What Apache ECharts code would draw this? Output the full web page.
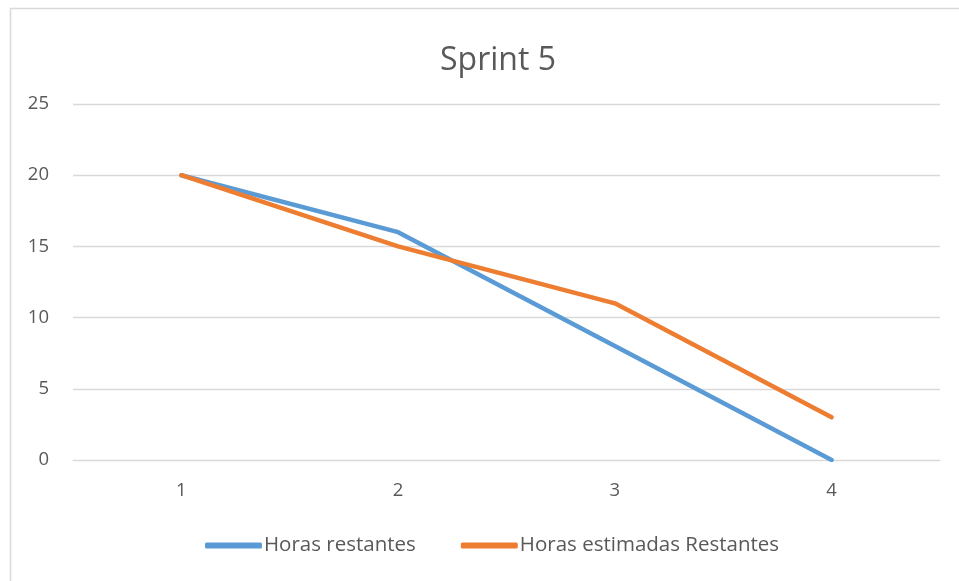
<!DOCTYPE html>
<html>
<head>
<meta charset="utf-8">
<script src="https://cdn.jsdelivr.net/npm/echarts@6/dist/echarts.min.js"></script>
<style>
  html, body { margin: 0; padding: 0; background: #fff; }
  #chart { width: 959px; height: 581px; }
</style>
</head>
<body>
<div id="chart"></div>
<script>
// Sprint burndown data
const days = ['1', '2', '3', '4'];
const horasRestantes = [20, 16, 8, 0];
const horasEstimadas = [20, 15, 11, 3];

const textColor = '#595959';
const fontFamily = '"Open Sans", "Liberation Sans", sans-serif';

const chart = echarts.init(document.getElementById('chart'), null, { renderer: 'canvas' });
chart.setOption({
  animation: false,
  backgroundColor: '#ffffff',
  graphic: [{
    type: 'rect',
    left: 8, top: 6,
    shape: { width: 1000, height: 700 },
    style: { fill: 'none', stroke: '#d9d9d9', lineWidth: 1.5 },
    silent: true
  }],
  title: {
    text: 'Sprint 5',
    left: 440,
    top: 45,
    padding: 0,
    textStyle: { fontFamily, fontSize: 32, fontWeight: 'normal', color: textColor }
  },
  grid: { left: 73, right: 19, top: 104, bottom: 121, containLabel: false },
  legend: {
    bottom: 20,
    left: 200,
    itemWidth: 57,
    itemHeight: 6,
    itemGap: 45,
    icon: 'roundRect',
    textStyle: { fontFamily, fontSize: 20.5, color: textColor, padding: [0, 0, 0, -3] },
    data: ['Horas restantes', 'Horas estimadas Restantes']
  },
  xAxis: {
    type: 'category',
    data: days,
    boundaryGap: true,
    axisLine: { show: true, lineStyle: { color: '#d9d9d9', width: 1 } },
    axisTick: { show: false },
    axisLabel: { fontFamily, fontSize: 18.5, color: textColor, margin: 21 }
  },
  yAxis: {
    type: 'value',
    min: 0, max: 25, interval: 5,
    axisLine: { show: false },
    axisTick: { show: false },
    splitLine: { lineStyle: { color: '#d9d9d9', width: 1.3 } },
    axisLabel: { fontFamily, fontSize: 18.5, color: textColor, margin: 24 }
  },
  series: [
    {
      name: 'Horas restantes',
      type: 'line',
      data: horasRestantes,
      symbol: 'none',
      lineStyle: { color: '#5B9BD5', width: 4.5, cap: 'round', join: 'round' },
      itemStyle: { color: '#5B9BD5' }
    },
    {
      name: 'Horas estimadas Restantes',
      type: 'line',
      data: horasEstimadas,
      symbol: 'none',
      lineStyle: { color: '#ED7D31', width: 4.5, cap: 'round', join: 'round' },
      itemStyle: { color: '#ED7D31' }
    }
  ]
});
</script>
</body>
</html>
